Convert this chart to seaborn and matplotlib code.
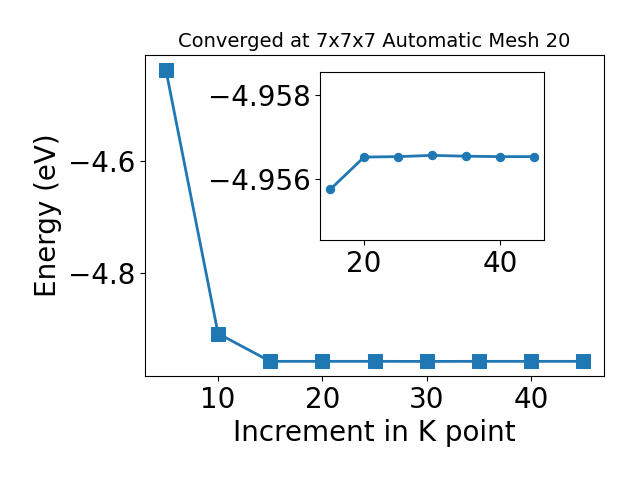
import numpy as np
import pandas as pd
import matplotlib
matplotlib.use('Agg')
import matplotlib.pyplot as plt
import seaborn as sns

# k-point increments and total energies (eV)
kpoints = [5, 10, 15, 20, 25, 30, 35, 40, 45]
energy = [-4.4375, -4.907, -4.9565, -4.9565, -4.9565, -4.9566, -4.9565, -4.9565, -4.9565]

# zoomed view, from 15 onward
kpoints_zoom = [15, 20, 25, 30, 35, 40, 45]
energy_zoom = [-4.95575, -4.95652, -4.95653, -4.95656, -4.95654, -4.95653, -4.95653]

df = pd.DataFrame({'k': kpoints, 'E': energy})
df_zoom = pd.DataFrame({'k': kpoints_zoom, 'E': energy_zoom})

fig = plt.figure(figsize=(6.4, 4.8), dpi=100)
ax = fig.add_axes([0.2266, 0.2167, 0.7172, 0.6683])
sns.lineplot(data=df, x='k', y='E', marker='s', markersize=10, linewidth=2,
             color='#1f77b4', markeredgecolor='#1f77b4', ax=ax)
ax.set_xlabel('Increment in K point', fontsize=20)
ax.set_ylabel('Energy (eV)', fontsize=20)
ax.set_title('Converged at 7x7x7 Automatic Mesh 20', fontsize=14)
ax.set_xticks([10, 20, 30, 40])
ax.set_yticks([-4.8, -4.6])
ax.tick_params(labelsize=20)

# inset
axins = fig.add_axes([0.5, 0.5, 0.35, 0.35])
sns.lineplot(data=df_zoom, x='k', y='E', marker='o', markersize=6, linewidth=2,
             color='#1f77b4', markeredgecolor='#1f77b4', ax=axins)
axins.set_ylim(-4.95455, -4.95854)
axins.set_xticks([20, 40])
axins.set_yticks([-4.958, -4.956])
axins.set_xlabel('')
axins.set_ylabel('')
axins.tick_params(labelsize=20)

fig.savefig('out.png', dpi=100)
